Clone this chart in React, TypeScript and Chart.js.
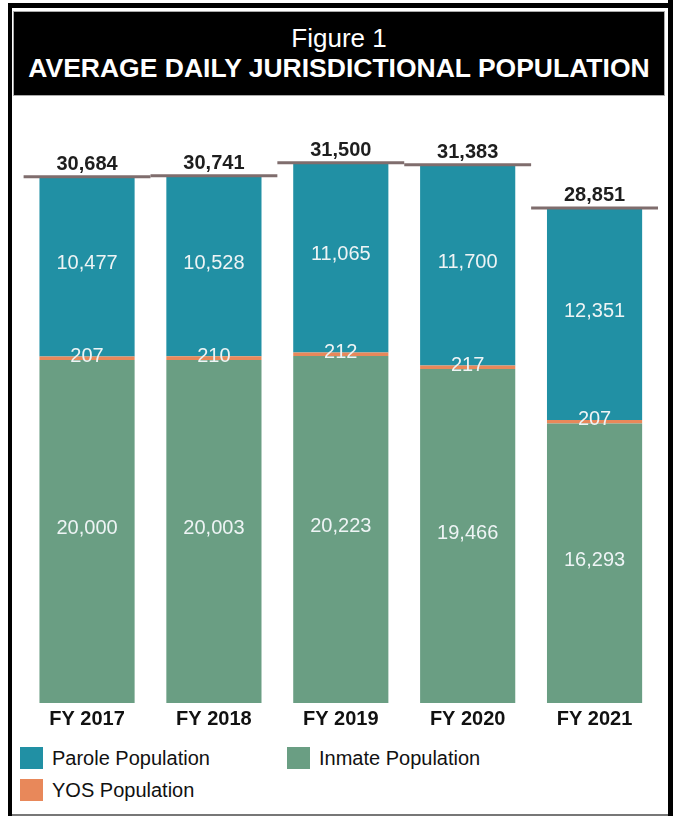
import React, { useEffect, useRef } from "react";
import { Chart, registerables } from "chart.js";

Chart.register(...registerables);

const categories = ["FY 2017", "FY 2018", "FY 2019", "FY 2020", "FY 2021"];
const inmatePopulation = [20000, 20003, 20223, 19466, 16293];
const yosPopulation = [207, 210, 212, 217, 207];
const parolePopulation = [10477, 10528, 11065, 11700, 12351];
const totalPopulation = [30684, 30741, 31500, 31383, 28851];
const yAxisMax = 34000;

const seriesNames = { parole: "Parole Population", inmate: "Inmate Population", yos: "YOS Population" };
const colors = { parole: "#2190a4", inmate: "#6a9e83", yos: "#e8885a" };

const FONT = '"Liberation Sans", Arial, Helvetica, sans-serif';
const fmt = (v: number) => v.toLocaleString("en-US");

const labelPlugin = {
  id: "segmentLabels",
  afterDatasetsDraw(chart: any) {
    const ctx = chart.ctx;
    ctx.save();
    ctx.textAlign = "center";
    chart.data.datasets.forEach((ds: any, di: number) => {
      const meta = chart.getDatasetMeta(di);
      meta.data.forEach((el: any, i: number) => {
        const v = ds.data[i];
        const p = el.getProps(["x", "y", "base"], true);
        const mid = (p.y + p.base) / 2 + (ds.labelOffset || 0);
        ctx.font = `20px ${FONT}`;
        ctx.fillStyle = "#eef4f5";
        ctx.textBaseline = "middle";
        ctx.fillText(fmt(v), p.x, mid);
      });
    });
    const xs = chart.scales.x;
    const ys = chart.scales.y;
    const half = (xs.right - xs.left) / categories.length / 2;
    totalPopulation.forEach((t, i) => {
      const cx = xs.getPixelForValue(i);
      const ty = ys.getPixelForValue(t);
      ctx.strokeStyle = "#7f6d6d";
      ctx.lineWidth = 3;
      ctx.beginPath();
      ctx.moveTo(cx - half, ty);
      ctx.lineTo(cx + half, ty);
      ctx.stroke();
      ctx.font = `bold 20px ${FONT}`;
      ctx.fillStyle = "#1e1e1e";
      ctx.textBaseline = "alphabetic";
      ctx.fillText(fmt(t), cx, ty - 7);
    });
    ctx.restore();
  },
};

function ChartCanvas() {
  const ref = useRef<HTMLCanvasElement | null>(null);
  useEffect(() => {
    if (!ref.current) return;
    const chart = new Chart(ref.current, {
      type: "bar",
      data: {
        labels: categories,
        datasets: [
          { label: seriesNames.inmate, data: inmatePopulation, backgroundColor: colors.inmate, labelOffset: -3 } as any,
          { label: seriesNames.yos, data: yosPopulation, backgroundColor: colors.yos, labelOffset: -2 } as any,
          { label: seriesNames.parole, data: parolePopulation, backgroundColor: colors.parole, labelOffset: -3 } as any,
        ],
      },
      options: {
        responsive: false,
        animation: false,
        devicePixelRatio: 1,
        layout: { padding: { left: 11.6, right: 4, top: 19.8, bottom: 7 } },
        datasets: { bar: { barPercentage: 0.75, categoryPercentage: 1, borderWidth: 0 } },
        plugins: { legend: { display: false }, tooltip: { enabled: false }, title: { display: false } },
        scales: {
          x: {
            stacked: true,
            grid: { display: false, drawTicks: false },
            border: { display: false },
            ticks: { color: "#111", font: { family: FONT, size: 20, weight: "bold" }, padding: 4, maxRotation: 0 },
            afterFit: (s: any) => { s.height = 30; },
          },
          y: { stacked: true, display: false, min: 0, max: yAxisMax },
        },
      } as any,
      plugins: [labelPlugin],
    });
    return () => chart.destroy();
  }, []);
  return (
    <canvas ref={ref} width={650} height={640} style={{ position: "absolute", left: 12, top: 100, width: 650, height: 640 }} />
  );
}

const legendItems = [
  { name: seriesNames.parole, color: colors.parole, left: 20, top: 747 },
  { name: seriesNames.inmate, color: colors.inmate, left: 287, top: 747 },
  { name: seriesNames.yos, color: colors.yos, left: 20, top: 779 },
];

export default function App() {
  return (
    <div style={{ position: "absolute", left: 0, top: 0, width: 673, height: 816, background: "#fff", overflow: "hidden", fontFamily: FONT }}>
      {/* outer frame */}
      <div style={{ position: "absolute", left: 8, top: 3, width: 660, height: 5, background: "#000" }} />
      <div style={{ position: "absolute", left: 668, top: 0, width: 5, height: 816, background: "#000" }} />
      <div style={{ position: "absolute", left: 8, top: 3, width: 4, height: 813, background: "#000" }} />
      <div style={{ position: "absolute", left: 12, top: 814, width: 656, height: 2, background: "#777" }} />
      {/* header */}
      <div style={{ position: "absolute", left: 13, top: 11, width: 650, height: 83, background: "#000", border: "1px solid #aaa" }} />
      <div style={{ position: "absolute", left: 13, top: 23, width: 652, height: 30, lineHeight: "30px", textAlign: "center", color: "#fff", fontSize: 26 }}>
        Figure 1
      </div>
      <div style={{ position: "absolute", left: 13, top: 53, width: 652, height: 30, lineHeight: "30px", textAlign: "center", color: "#fff", fontSize: 26.5, fontWeight: "bold", whiteSpace: "nowrap" }}>
        AVERAGE DAILY JURISDICTIONAL POPULATION
      </div>
      <ChartCanvas />
      {legendItems.map((it) => (
        <div key={it.name} style={{ position: "absolute", left: it.left, top: it.top, height: 22, display: "flex", alignItems: "center", whiteSpace: "nowrap" }}>
          <div style={{ width: 23, height: 22, background: it.color }} />
          <div style={{ marginLeft: 9, fontSize: 20, color: "#111", lineHeight: "22px" }}>{it.name}</div>
        </div>
      ))}
    </div>
  );
}
